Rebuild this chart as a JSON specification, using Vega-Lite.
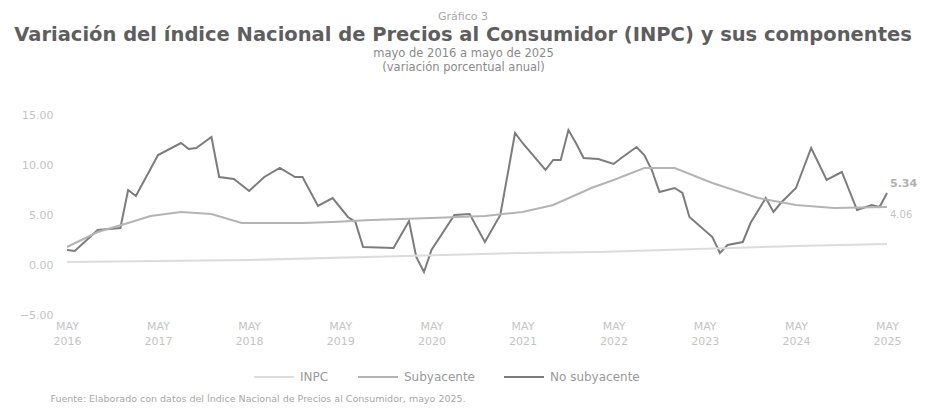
{
  "$schema": "https://vega.github.io/schema/vega-lite/v6.json",
  "width": 820,
  "height": 200,
  "autosize": "none",
  "padding": {"left": 67, "top": 115, "right": 41, "bottom": 98},
  "background": "white",
  "config": {"font": "DejaVu Sans", "view": {"stroke": null}},
  "title": {
    "text": "Gráfico 3",
    "subtitle": "Variación del índice Nacional de Precios al Consumidor (INPC) y sus componentes",
    "anchor": "middle",
    "frame": "group",
    "dx": -14,
    "fontSize": 11,
    "fontWeight": "normal",
    "color": "#a8a8a8",
    "subtitleFontSize": 19.5,
    "subtitleFontWeight": "bold",
    "subtitleColor": "#5e5e5e",
    "subtitlePadding": 4,
    "offset": 3
  },
  "datasets": {
    "serie": [
      {"fecha": "2016-05-01", "serie": "No subyacente", "valor": 1.5},
      {"fecha": "2016-06-01", "serie": "No subyacente", "valor": 1.4},
      {"fecha": "2016-09-01", "serie": "No subyacente", "valor": 3.5},
      {"fecha": "2016-12-01", "serie": "No subyacente", "valor": 3.7},
      {"fecha": "2017-01-01", "serie": "No subyacente", "valor": 7.5},
      {"fecha": "2017-02-01", "serie": "No subyacente", "valor": 6.9},
      {"fecha": "2017-05-01", "serie": "No subyacente", "valor": 11.0},
      {"fecha": "2017-08-01", "serie": "No subyacente", "valor": 12.2},
      {"fecha": "2017-09-01", "serie": "No subyacente", "valor": 11.6},
      {"fecha": "2017-10-01", "serie": "No subyacente", "valor": 11.7},
      {"fecha": "2017-12-01", "serie": "No subyacente", "valor": 12.8},
      {"fecha": "2018-01-01", "serie": "No subyacente", "valor": 8.8},
      {"fecha": "2018-03-01", "serie": "No subyacente", "valor": 8.6},
      {"fecha": "2018-05-01", "serie": "No subyacente", "valor": 7.4},
      {"fecha": "2018-07-01", "serie": "No subyacente", "valor": 8.8},
      {"fecha": "2018-09-01", "serie": "No subyacente", "valor": 9.7},
      {"fecha": "2018-11-01", "serie": "No subyacente", "valor": 8.8},
      {"fecha": "2018-12-01", "serie": "No subyacente", "valor": 8.8},
      {"fecha": "2019-02-01", "serie": "No subyacente", "valor": 5.9},
      {"fecha": "2019-04-01", "serie": "No subyacente", "valor": 6.7},
      {"fecha": "2019-06-01", "serie": "No subyacente", "valor": 4.8},
      {"fecha": "2019-07-01", "serie": "No subyacente", "valor": 4.3},
      {"fecha": "2019-08-01", "serie": "No subyacente", "valor": 1.8},
      {"fecha": "2019-12-01", "serie": "No subyacente", "valor": 1.7},
      {"fecha": "2020-02-01", "serie": "No subyacente", "valor": 4.4},
      {"fecha": "2020-03-01", "serie": "No subyacente", "valor": 0.8},
      {"fecha": "2020-04-01", "serie": "No subyacente", "valor": -0.7},
      {"fecha": "2020-05-01", "serie": "No subyacente", "valor": 1.5},
      {"fecha": "2020-08-01", "serie": "No subyacente", "valor": 5.0},
      {"fecha": "2020-10-01", "serie": "No subyacente", "valor": 5.1},
      {"fecha": "2020-12-01", "serie": "No subyacente", "valor": 2.3},
      {"fecha": "2021-02-01", "serie": "No subyacente", "valor": 5.0},
      {"fecha": "2021-04-01", "serie": "No subyacente", "valor": 13.2},
      {"fecha": "2021-05-01", "serie": "No subyacente", "valor": 12.2},
      {"fecha": "2021-08-01", "serie": "No subyacente", "valor": 9.5},
      {"fecha": "2021-09-01", "serie": "No subyacente", "valor": 10.5},
      {"fecha": "2021-10-01", "serie": "No subyacente", "valor": 10.5},
      {"fecha": "2021-11-01", "serie": "No subyacente", "valor": 13.5},
      {"fecha": "2021-12-01", "serie": "No subyacente", "valor": 12.2},
      {"fecha": "2022-01-01", "serie": "No subyacente", "valor": 10.7},
      {"fecha": "2022-03-01", "serie": "No subyacente", "valor": 10.6},
      {"fecha": "2022-05-01", "serie": "No subyacente", "valor": 10.1},
      {"fecha": "2022-06-01", "serie": "No subyacente", "valor": 10.7},
      {"fecha": "2022-08-01", "serie": "No subyacente", "valor": 11.8},
      {"fecha": "2022-09-01", "serie": "No subyacente", "valor": 11.0},
      {"fecha": "2022-10-01", "serie": "No subyacente", "valor": 9.5},
      {"fecha": "2022-11-01", "serie": "No subyacente", "valor": 7.3},
      {"fecha": "2023-01-01", "serie": "No subyacente", "valor": 7.7},
      {"fecha": "2023-02-01", "serie": "No subyacente", "valor": 7.2},
      {"fecha": "2023-03-01", "serie": "No subyacente", "valor": 4.8},
      {"fecha": "2023-06-01", "serie": "No subyacente", "valor": 2.8},
      {"fecha": "2023-07-01", "serie": "No subyacente", "valor": 1.2},
      {"fecha": "2023-08-01", "serie": "No subyacente", "valor": 2.0},
      {"fecha": "2023-10-01", "serie": "No subyacente", "valor": 2.3},
      {"fecha": "2023-11-01", "serie": "No subyacente", "valor": 4.2},
      {"fecha": "2024-01-01", "serie": "No subyacente", "valor": 6.7},
      {"fecha": "2024-02-01", "serie": "No subyacente", "valor": 5.3},
      {"fecha": "2024-03-01", "serie": "No subyacente", "valor": 6.2},
      {"fecha": "2024-05-01", "serie": "No subyacente", "valor": 7.7},
      {"fecha": "2024-07-01", "serie": "No subyacente", "valor": 11.7},
      {"fecha": "2024-09-01", "serie": "No subyacente", "valor": 8.5},
      {"fecha": "2024-11-01", "serie": "No subyacente", "valor": 9.3},
      {"fecha": "2025-01-01", "serie": "No subyacente", "valor": 5.5},
      {"fecha": "2025-03-01", "serie": "No subyacente", "valor": 6.0},
      {"fecha": "2025-04-01", "serie": "No subyacente", "valor": 5.8},
      {"fecha": "2025-05-01", "serie": "No subyacente", "valor": 7.2},
      {"fecha": "2016-05-01", "serie": "Subyacente", "valor": 1.8},
      {"fecha": "2016-09-01", "serie": "Subyacente", "valor": 3.3},
      {"fecha": "2017-01-01", "serie": "Subyacente", "valor": 4.2},
      {"fecha": "2017-04-01", "serie": "Subyacente", "valor": 4.9},
      {"fecha": "2017-08-01", "serie": "Subyacente", "valor": 5.3},
      {"fecha": "2017-12-01", "serie": "Subyacente", "valor": 5.1},
      {"fecha": "2018-04-01", "serie": "Subyacente", "valor": 4.2},
      {"fecha": "2018-12-01", "serie": "Subyacente", "valor": 4.2},
      {"fecha": "2019-04-01", "serie": "Subyacente", "valor": 4.3},
      {"fecha": "2019-09-01", "serie": "Subyacente", "valor": 4.5},
      {"fecha": "2020-05-01", "serie": "Subyacente", "valor": 4.7},
      {"fecha": "2020-12-01", "serie": "Subyacente", "valor": 4.9},
      {"fecha": "2021-05-01", "serie": "Subyacente", "valor": 5.3},
      {"fecha": "2021-09-01", "serie": "Subyacente", "valor": 6.0},
      {"fecha": "2022-02-01", "serie": "Subyacente", "valor": 7.7},
      {"fecha": "2022-05-01", "serie": "Subyacente", "valor": 8.5},
      {"fecha": "2022-09-01", "serie": "Subyacente", "valor": 9.7},
      {"fecha": "2023-01-01", "serie": "Subyacente", "valor": 9.7},
      {"fecha": "2023-06-01", "serie": "Subyacente", "valor": 8.2},
      {"fecha": "2023-12-01", "serie": "Subyacente", "valor": 6.7},
      {"fecha": "2024-05-01", "serie": "Subyacente", "valor": 6.0},
      {"fecha": "2024-10-01", "serie": "Subyacente", "valor": 5.7},
      {"fecha": "2025-05-01", "serie": "Subyacente", "valor": 5.8},
      {"fecha": "2016-05-01", "serie": "INPC", "valor": 0.3},
      {"fecha": "2018-05-01", "serie": "INPC", "valor": 0.5},
      {"fecha": "2021-05-01", "serie": "INPC", "valor": 1.2},
      {"fecha": "2022-03-01", "serie": "INPC", "valor": 1.3},
      {"fecha": "2023-04-01", "serie": "INPC", "valor": 1.6},
      {"fecha": "2024-05-01", "serie": "INPC", "valor": 1.9},
      {"fecha": "2025-05-01", "serie": "INPC", "valor": 2.1}
    ],
    "etiquetas": [
      {"fecha": "2025-05-01", "serie": "No subyacente", "valor": 7.2, "etiqueta": "5.34"},
      {"fecha": "2025-05-01", "serie": "Subyacente", "valor": 5.8, "etiqueta": "4.06"}
    ]
  },
  "layer": [
    {
      "data": {"name": "serie"},
      "mark": {"type": "line", "strokeWidth": 2},
      "encoding": {
        "x": {
          "field": "fecha",
          "type": "temporal",
          "scale": {"type": "utc", "domain": [{"year": 2016, "month": 5, "date": 1, "utc": true}, {"year": 2025, "month": 5, "date": 1, "utc": true}]},
          "axis": {
            "values": [
              {"year": 2016, "month": 5, "date": 1, "utc": true},
              {"year": 2017, "month": 5, "date": 1, "utc": true},
              {"year": 2018, "month": 5, "date": 1, "utc": true},
              {"year": 2019, "month": 5, "date": 1, "utc": true},
              {"year": 2020, "month": 5, "date": 1, "utc": true},
              {"year": 2021, "month": 5, "date": 1, "utc": true},
              {"year": 2022, "month": 5, "date": 1, "utc": true},
              {"year": 2023, "month": 5, "date": 1, "utc": true},
              {"year": 2024, "month": 5, "date": 1, "utc": true},
              {"year": 2025, "month": 5, "date": 1, "utc": true}
            ],
            "labelExpr": "['MAY', utcFormat(datum.value, '%Y')]",
            "labelFontSize": 11,
            "labelColor": "#c4c4c4",
            "labelLineHeight": 15,
            "labelPadding": 5,
            "labelFlush": false,
            "labelOverlap": false,
            "ticks": false,
            "domain": false,
            "grid": false,
            "title": "Fuente: Elaborado con datos del Índice Nacional de Precios al Consumidor, mayo 2025.",
            "titleX": -17,
            "titleY": 83,
            "titleAlign": "left",
            "titleAnchor": null,
            "titleBaseline": "middle",
            "titleFontSize": 9.5,
            "titleFontWeight": "normal",
            "titleColor": "#a8a8a8"
          }
        },
        "y": {
          "field": "valor",
          "type": "quantitative",
          "scale": {"domain": [-5, 15], "nice": false, "zero": false},
          "axis": {
            "values": [-5, 0, 5, 10, 15],
            "format": ".2f",
            "labelFontSize": 11,
            "labelColor": "#c4c4c4",
            "labelPadding": 14,
            "ticks": false,
            "domain": false,
            "grid": false,
            "title": ["mayo de 2016 a mayo de 2025", "(variación porcentual anual)"],
            "titleAngle": 0,
            "titleX": 396,
            "titleY": -62,
            "titleAlign": "center",
            "titleAnchor": null,
            "titleBaseline": "middle",
            "titleLineHeight": 14,
            "titleFontSize": 11.5,
            "titleFontWeight": "normal",
            "titleColor": "#8a8a8a"
          }
        },
        "color": {
          "field": "serie",
          "type": "nominal",
          "scale": {"domain": ["INPC", "Subyacente", "No subyacente"], "range": ["#dcdcdc", "#b4b4b4", "#7c7c7c"]},
          "legend": {
            "title": null,
            "orient": "none",
            "direction": "horizontal",
            "legendX": 186,
            "legendY": 241,
            "symbolType": "stroke",
            "symbolSize": 1600,
            "symbolStrokeWidth": 2,
            "labelFontSize": 12,
            "labelColor": "#9a9a9a",
            "labelOffset": 5,
            "columnPadding": 25
          }
        }
      }
    },
    {
      "data": {"name": "etiquetas"},
      "transform": [{"filter": "datum.serie === 'No subyacente'"}],
      "mark": {"type": "text", "align": "left", "dx": 3, "dy": -9, "fontSize": 11, "fontWeight": "bold", "color": "#b0b0b0"},
      "encoding": {
        "x": {"field": "fecha", "type": "temporal"},
        "y": {"field": "valor", "type": "quantitative"},
        "text": {"field": "etiqueta"}
      }
    },
    {
      "data": {"name": "etiquetas"},
      "transform": [{"filter": "datum.serie === 'Subyacente'"}],
      "mark": {"type": "text", "align": "left", "dx": 3, "dy": 8, "fontSize": 10, "color": "#c4c4c4"},
      "encoding": {
        "x": {"field": "fecha", "type": "temporal"},
        "y": {"field": "valor", "type": "quantitative"},
        "text": {"field": "etiqueta"}
      }
    }
  ]
}
